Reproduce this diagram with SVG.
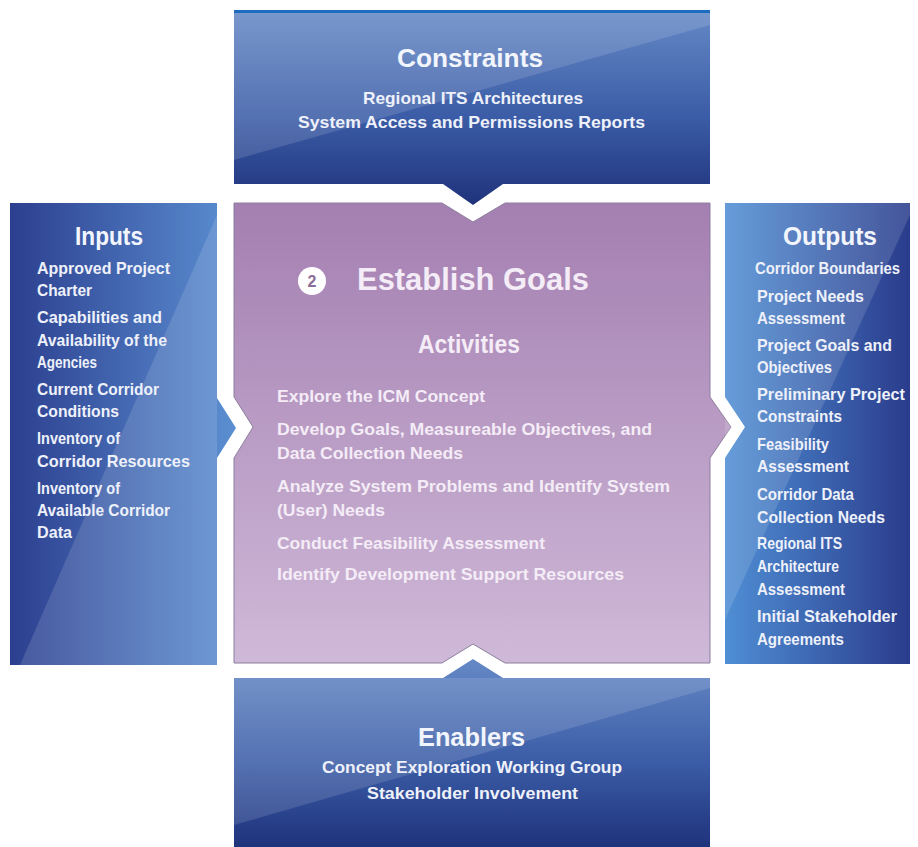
<svg xmlns="http://www.w3.org/2000/svg" width="918" height="847" viewBox="0 0 918 847">
<defs>
<linearGradient id="gV" x1="0" y1="0" x2="0" y2="1">
<stop offset="0" stop-color="#6589c6"/>
<stop offset="0.55" stop-color="#3b5ca6"/>
<stop offset="1" stop-color="#1f337c"/>
</linearGradient>
<linearGradient id="gL" x1="0" y1="0" x2="1" y2="0">
<stop offset="0" stop-color="#2c3f8f"/>
<stop offset="1" stop-color="#5b8fd2"/>
</linearGradient>
<linearGradient id="gR" x1="0" y1="0" x2="1" y2="0">
<stop offset="0" stop-color="#4f8ed4"/>
<stop offset="1" stop-color="#2a3c8c"/>
</linearGradient>
<linearGradient id="gC" x1="0" y1="0" x2="0" y2="1">
<stop offset="0" stop-color="#a47fb1"/>
<stop offset="1" stop-color="#cfb9d8"/>
</linearGradient>
<style>
text{font-family:"Liberation Sans",Arial,sans-serif;font-weight:bold}
.h{fill:#f2f5fc;font-size:25px}
.t{fill:#eef1fa;font-size:17px}
.c{fill:#f4ecf6}
.hl{fill:#ffffff;fill-opacity:0.13}
</style>
</defs>

<g id="constraints">
<path d="M234,10 L710,10 L710,184 L503,184 L473,205 L443,184 L234,184 Z" fill="url(#gV)"/>
<path d="M234,12 L710,12 L710,25 L234,160 Z" class="hl"/>
<rect x="234" y="10" width="476" height="3" fill="#1c6cc0"/>
<text class="h" x="397" y="67" textLength="146" lengthAdjust="spacingAndGlyphs">Constraints</text>
<text class="t" x="363" y="104" textLength="220" lengthAdjust="spacingAndGlyphs">Regional ITS Architectures</text>
<text class="t" x="298" y="128" textLength="347" lengthAdjust="spacingAndGlyphs">System Access and Permissions Reports</text>
</g>

<g id="inputs">
<path d="M10,203 L217,203 L217,398 L236,428 L217,458 L217,665 L10,665 Z" fill="url(#gL)"/>
<path d="M217,215 L217,665 L20,665 Z" class="hl"/>
<text class="h" x="75" y="245" textLength="68" lengthAdjust="spacingAndGlyphs">Inputs</text>
<text class="t" x="37" y="274" textLength="133" lengthAdjust="spacingAndGlyphs">Approved Project</text>
<text class="t" x="37" y="296" textLength="55" lengthAdjust="spacingAndGlyphs">Charter</text>
<text class="t" x="37" y="323" textLength="125" lengthAdjust="spacingAndGlyphs">Capabilities and</text>
<text class="t" x="37" y="346" textLength="130" lengthAdjust="spacingAndGlyphs">Availability of the</text>
<text class="t" x="37" y="368" textLength="60" lengthAdjust="spacingAndGlyphs">Agencies</text>
<text class="t" x="37" y="395" textLength="122" lengthAdjust="spacingAndGlyphs">Current Corridor</text>
<text class="t" x="37" y="417" textLength="82" lengthAdjust="spacingAndGlyphs">Conditions</text>
<text class="t" x="37" y="444" textLength="83" lengthAdjust="spacingAndGlyphs">Inventory of</text>
<text class="t" x="37" y="467" textLength="153" lengthAdjust="spacingAndGlyphs">Corridor Resources</text>
<text class="t" x="37" y="494" textLength="83" lengthAdjust="spacingAndGlyphs">Inventory of</text>
<text class="t" x="37" y="516" textLength="133" lengthAdjust="spacingAndGlyphs">Available Corridor</text>
<text class="t" x="37" y="538" textLength="35" lengthAdjust="spacingAndGlyphs">Data</text>
</g>

<g id="activity">
<path d="M234,203 L442,203 L473,222 L505,203 L710,203 L710,397 L731,427 L710,458 L710,663 L505,663 L473,644 L442,663 L234,663 L234,458 L253,427 L234,397 Z" fill="url(#gC)" stroke="#8d7f9e" stroke-width="1"/>
<circle cx="312" cy="281" r="14" fill="#ffffff"/>
<text x="312" y="287" font-size="16" fill="#8a6d98" text-anchor="middle">2</text>
<text class="c" x="357" y="290" font-size="31" textLength="232" lengthAdjust="spacingAndGlyphs">Establish Goals</text>
<text class="h c" x="418" y="353" textLength="102" lengthAdjust="spacingAndGlyphs">Activities</text>
<text class="t c" x="277" y="402" textLength="208" lengthAdjust="spacingAndGlyphs">Explore the ICM Concept</text>
<text class="t c" x="277" y="435" textLength="375" lengthAdjust="spacingAndGlyphs">Develop Goals, Measureable Objectives, and</text>
<text class="t c" x="277" y="459" textLength="186" lengthAdjust="spacingAndGlyphs">Data Collection Needs</text>
<text class="t c" x="277" y="492" textLength="393" lengthAdjust="spacingAndGlyphs">Analyze System Problems and Identify System</text>
<text class="t c" x="277" y="516" textLength="108" lengthAdjust="spacingAndGlyphs">(User) Needs</text>
<text class="t c" x="277" y="549" textLength="268" lengthAdjust="spacingAndGlyphs">Conduct Feasibility Assessment</text>
<text class="t c" x="277" y="580" textLength="347" lengthAdjust="spacingAndGlyphs">Identify Development Support Resources</text>
</g>

<g id="outputs">
<path d="M725,203 L910,203 L910,664 L725,664 L725,458 L745,427 L725,397 Z" fill="url(#gR)"/>
<path d="M725,203 L910,203 L910,215 L725,620 Z" class="hl"/>
<text class="h" x="783" y="245" textLength="94" lengthAdjust="spacingAndGlyphs">Outputs</text>
<text class="t" x="755" y="274" font-size="15" textLength="145" lengthAdjust="spacingAndGlyphs">Corridor Boundaries</text>
<text class="t" x="757" y="302" textLength="107" lengthAdjust="spacingAndGlyphs">Project Needs</text>
<text class="t" x="757" y="324" textLength="88" lengthAdjust="spacingAndGlyphs">Assessment</text>
<text class="t" x="757" y="351" textLength="135" lengthAdjust="spacingAndGlyphs">Project Goals and</text>
<text class="t" x="757" y="373" textLength="75" lengthAdjust="spacingAndGlyphs">Objectives</text>
<text class="t" x="757" y="400" textLength="148" lengthAdjust="spacingAndGlyphs">Preliminary Project</text>
<text class="t" x="757" y="422" textLength="85" lengthAdjust="spacingAndGlyphs">Constraints</text>
<text class="t" x="757" y="450" textLength="72" lengthAdjust="spacingAndGlyphs">Feasibility</text>
<text class="t" x="757" y="472" textLength="92" lengthAdjust="spacingAndGlyphs">Assessment</text>
<text class="t" x="757" y="500" textLength="97" lengthAdjust="spacingAndGlyphs">Corridor Data</text>
<text class="t" x="757" y="523" textLength="128" lengthAdjust="spacingAndGlyphs">Collection Needs</text>
<text class="t" x="757" y="549" textLength="85" lengthAdjust="spacingAndGlyphs">Regional ITS</text>
<text class="t" x="757" y="572" textLength="82" lengthAdjust="spacingAndGlyphs">Architecture</text>
<text class="t" x="757" y="595" textLength="88" lengthAdjust="spacingAndGlyphs">Assessment</text>
<text class="t" x="757" y="622" textLength="140" lengthAdjust="spacingAndGlyphs">Initial Stakeholder</text>
<text class="t" x="757" y="645" textLength="87" lengthAdjust="spacingAndGlyphs">Agreements</text>
</g>

<g id="enablers">
<path d="M234,678 L443,678 L473,659 L503,678 L710,678 L710,847 L234,847 Z" fill="url(#gV)"/>
<path d="M234,678 L710,678 L710,688 L234,825 Z" class="hl"/>
<text class="h" x="418" y="746" textLength="107" lengthAdjust="spacingAndGlyphs">Enablers</text>
<text class="t" x="322" y="773" textLength="300" lengthAdjust="spacingAndGlyphs">Concept Exploration Working Group</text>
<text class="t" x="367" y="799" textLength="211" lengthAdjust="spacingAndGlyphs">Stakeholder Involvement</text>
</g>

<g id="connectors"></g>
</svg>
